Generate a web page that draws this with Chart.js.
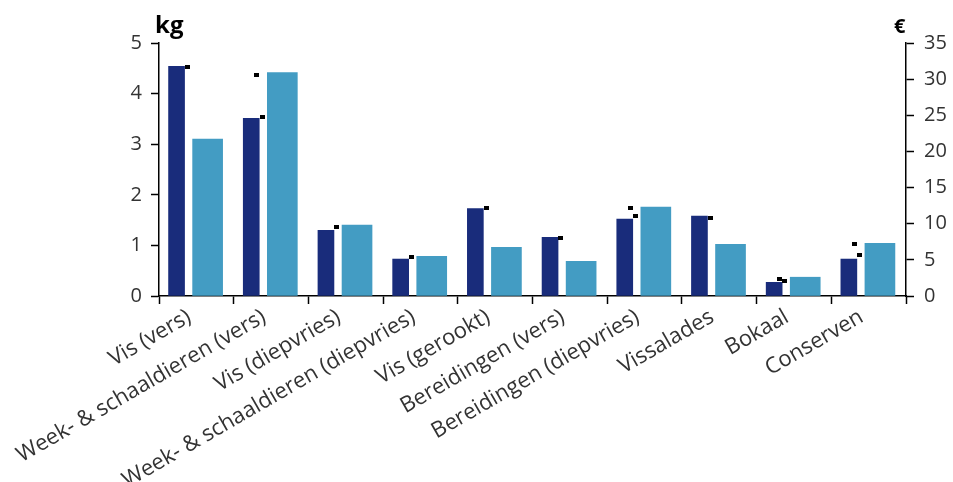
<!DOCTYPE html>
<html>
<head>
<meta charset="utf-8">
<script src="https://cdn.jsdelivr.net/npm/chart.js@4.4.0/dist/chart.umd.min.js"></script>
<style>
  html, body { margin: 0; padding: 0; background: #ffffff; }
  #wrap { position: relative; width: 953px; height: 482px; }
</style>
</head>
<body>
<div id="wrap"><canvas id="c" width="953" height="482"></canvas></div>
<script>
// ---- data ----
const categories = [
  'Vis (vers)',
  'Week- & schaaldieren (vers)',
  'Vis (diepvries)',
  'Week- & schaaldieren (diepvries)',
  'Vis (gerookt)',
  'Bereidingen (vers)',
  'Bereidingen (diepvries)',
  'Vissalades',
  'Bokaal',
  'Conserven'
];
const kgValues  = [4.54, 3.51, 1.30, 0.73, 1.73, 1.16, 1.52, 1.58, 0.27, 0.73];
const eurValues = [21.7, 30.9, 9.8, 5.5, 6.75, 4.8, 12.3, 7.15, 2.6, 7.3];
const markerKg  = [4.52, 3.53, 1.36, 0.78, 1.73, 1.14, 1.58, 1.55, 0.29, 0.81];
const markerEur = [null, 30.6, null, null, null, 4.66, 12.13, 6.74, 2.31, 7.22];
const kgTicks  = [0, 1, 2, 3, 4, 5];
const eurTicks = [0, 5, 10, 15, 20, 25, 30, 35];
const leftUnit = 'kg';
const rightUnit = '€';

// ---- style / layout constants ----
const FONT = "'Open Sans', 'DejaVu Sans', sans-serif";
const DARK = '#192c7b';
const LIGHT = '#439cc3';
const TEXT = '#333333';
const SHIFT_KG = -0.265, SHIFT_EUR = 0.151;      // bar offsets within a category (index units)
const SHIFT_MK_A = -0.121, SHIFT_MK_B = -0.194;  // marker offsets

const markCanvas = document.createElement('canvas');
markCanvas.width = 5; markCanvas.height = 4;
(function(){ const g = markCanvas.getContext('2d'); g.fillStyle = '#000'; g.fillRect(0,0,5,4); })();

const toPts = (arr, shift) => arr.map((v, i) => ({ x: i + shift, y: v }));

const unitPlugin = {
  id: 'units',
  afterDraw(chart) {
    const ctx = chart.ctx;
    ctx.save();
    ctx.fillStyle = '#000';
    ctx.textBaseline = 'alphabetic';
    ctx.textAlign = 'left';
    ctx.font = "bold 24px " + FONT;
    ctx.fillText(leftUnit, 155, 33);
    ctx.font = "bold 20px " + FONT;
    ctx.fillText(rightUnit, 894, 33);
    ctx.restore();
  }
};

new Chart(document.getElementById('c'), {
  type: 'bar',
  data: {
    datasets: [
      {
        type: 'line', label: 'markerKg', yAxisID: 'y', order: 0,
        data: toPts(markerKg, SHIFT_MK_A),
        showLine: false, pointStyle: markCanvas, pointRadius: 3, pointHoverRadius: 3
      },
      {
        label: 'kg', data: toPts(kgValues, SHIFT_KG), yAxisID: 'y', backgroundColor: DARK, order: 1,
        grouped: false, barThickness: 16
      },
      {
        label: '€', data: toPts(eurValues, SHIFT_EUR), yAxisID: 'y1', backgroundColor: LIGHT, order: 1,
        grouped: false, barThickness: 30
      },
      {
        type: 'line', label: 'markerEur', yAxisID: 'y1', order: 2,
        data: toPts(markerEur, SHIFT_MK_B),
        showLine: false, pointStyle: markCanvas, pointRadius: 3, pointHoverRadius: 3
      }
    ]
  },
  options: {
    responsive: false,
    animation: false,
    events: [],
    layout: { padding: { top: 43, left: 0, right: 0, bottom: 0 } },
    plugins: { legend: { display: false }, tooltip: { enabled: false } },
    scales: {
      x: {
        type: 'linear',
        min: -0.5, max: categories.length - 0.5,
        offset: false,
        afterBuildTicks(s) { s.ticks = categories.map((_, i) => ({ value: i })); },
        grid: { offset: true, drawOnChartArea: false, drawTicks: true, tickLength: 8, tickColor: '#000', tickWidth: 1.5 },
        border: { display: true, color: '#000', width: 1.5 },
        ticks: {
          autoSkip: false, minRotation: 30, maxRotation: 30, padding: 0, labelOffset: -7,
          color: TEXT, font: { family: FONT, size: 22 },
          callback: (v) => categories[v]
        },
        afterFit(s) { s.height = 186; }
      },
      y: {
        position: 'left', min: 0, max: 5,
        afterBuildTicks(s) { s.ticks = kgTicks.map(v => ({ value: v })); },
        grid: { drawOnChartArea: false, tickLength: 8, tickColor: '#000', tickWidth: 1.5 },
        border: { display: true, color: '#000', width: 1.5 },
        ticks: { padding: 9, color: TEXT, font: { family: FONT, size: 20 } },
        afterFit(s) { s.width = 159; }
      },
      y1: {
        position: 'right', min: 0, max: 35,
        afterBuildTicks(s) { s.ticks = eurTicks.map(v => ({ value: v })); },
        grid: { drawOnChartArea: false, tickLength: 8, tickColor: '#000', tickWidth: 1.5 },
        border: { display: true, color: '#000', width: 1.5 },
        ticks: { padding: 10, color: TEXT, font: { family: FONT, size: 20 } },
        afterFit(s) { s.width = 47; }
      }
    }
  },
  plugins: [unitPlugin]
});
</script>
</body>
</html>
